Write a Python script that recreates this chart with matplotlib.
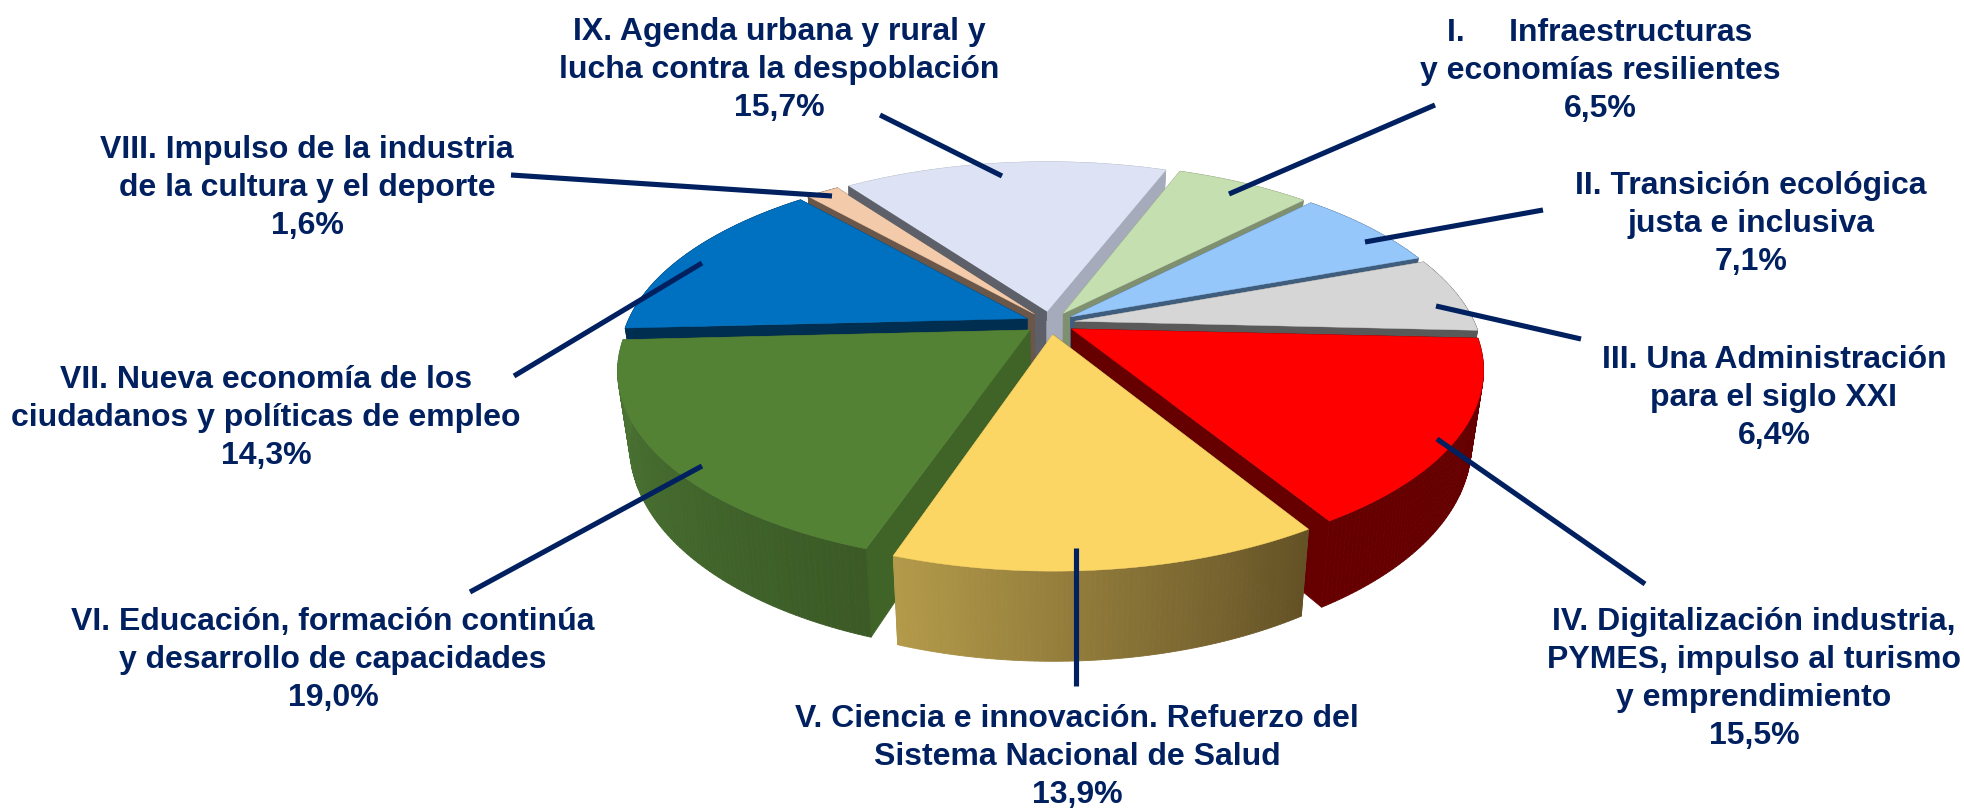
import numpy as np
import matplotlib
matplotlib.use('Agg')
import matplotlib.pyplot as plt
from matplotlib.colors import to_rgb

labels = [
    'I.     Infraestructuras\ny economías resilientes',
    'II. Transición ecológica\njusta e inclusiva',
    'III. Una Administración\npara el siglo XXI',
    'IV. Digitalización industria,\nPYMES, impulso al turismo\ny emprendimiento',
    'V. Ciencia e innovación. Refuerzo del\nSistema Nacional de Salud',
    'VI. Educación, formación continúa\ny desarrollo de capacidades',
    'VII. Nueva economía de los\nciudadanos y políticas de empleo',
    'VIII. Impulso de la industria\nde la cultura y el deporte',
    'IX. Agenda urbana y rural y\nlucha contra la despoblación',
]
shares = [6.5, 7.1, 6.4, 15.5, 13.9, 19.0, 14.3, 1.6, 15.7]
top_colors = ['#C5DFB0', '#96C7FA', '#D6D6D6', '#FF0000', '#FBD664',
              '#548235', '#0070C0', '#F4CBAA', '#DDE3F4']
cut_start = ['#7F9070', '#3F5E7E', '#595959', '#660000', '#645226',
             '#406328', '#002E50', '#6B5749', '#5D6068']
cut_end = ['#7F9070', '#3F5E7E', '#595959', '#660000', '#B39A4A',
           '#406328', '#002E50', '#6B5749', '#A5ABBA']
side_start = ['#7F9070', '#3F5E7E', '#595959', '#660000', '#645226',
              '#3B5A26', '#002E50', '#6B5749', '#A5ABBA']
side_end = ['#7F9070', '#3F5E7E', '#595959', '#660000', '#B39A4A',
            '#4C7734', '#002E50', '#6B5749', '#A5ABBA']

NAVY = '#002060'
CX, CY = 1050, 323
R, RY = 400, 184
PERSP = 0.2
EXPLODE = 25
DEPTH = 71
TAPER = 0.028
START = 69.2
BAND = 9

# label centre and leader line for each slice, in pixels
label_pos = [(1600, 71), (1751, 224), (1774, 398), (1754, 679), (1077, 757),
             (333, 660), (266, 418), (307, 188), (779, 70)]
leaders = [((1435, 105), (1229, 194)), ((1543, 210), (1365, 242)),
           ((1581, 339), (1436, 306)), ((1645, 584), (1437, 439)),
           ((1076, 686), (1076, 548)), ((470, 592), (702, 466)),
           ((514, 376), (702, 263)), ((511, 175), (832, 196)),
           ((880, 115), (1002, 176))]
# back slices first so the front ones cover them
back_order = [8, 0, 7]
front_order = [1, 6, 2, 3, 5, 4]


def project(x, y, low=False):
    scale = 1 / (1 + PERSP * y / R)
    px = x * scale
    py = -y * RY / R * scale
    if low:
        return CX + px * (1 - TAPER), CY + py + DEPTH * scale
    return CX + px, CY + py


def wedge_points(t0, t1):
    mid = np.radians((t0 + t1) / 2)
    ox, oy = EXPLODE * np.cos(mid), EXPLODE * np.sin(mid)
    ts = np.radians(np.linspace(t0, t1, 80))
    return ox, oy, ox + R * np.cos(ts), oy + R * np.sin(ts)


def draw_wedge(ax, t0, t1, top, cuts, c0, c1):
    # t0 > t1, clockwise, angles in degrees
    ox, oy, xs, ys = wedge_points(t0, t1)
    rim_x, rim_y = project(xs, ys)
    low_x, low_y = project(xs, ys, low=True)
    ax0, ay0 = project(ox, oy)
    bx0, by0 = project(ox, oy, low=True)

    # cut faces
    for i, cut in zip([0, -1], cuts):
        ax.fill([ax0, rim_x[i], low_x[i], bx0], [ay0, rim_y[i], low_y[i], by0],
                color=cut, lw=0.5)

    # outer side, shaded strip by strip
    c0, c1 = np.array(to_rgb(c0)), np.array(to_rgb(c1))
    for i in range(len(xs) - 1):
        c = c0 + (c1 - c0) * i / (len(xs) - 2)
        ax.fill([rim_x[i], rim_x[i + 1], low_x[i + 1], low_x[i]],
                [rim_y[i], rim_y[i + 1], low_y[i + 1], low_y[i]],
                color=c, lw=0.6)

    ax.fill(np.r_[ax0, rim_x], np.r_[ay0, rim_y], color=top, lw=0.3)


def draw_band(ax, t0, t1, color):
    # thin strip of the cut face that shows over the slice next to it
    ox, oy, xs, ys = wedge_points(t0, t1)
    rx, ry = project(xs[0], ys[0])
    ax0, ay0 = project(ox, oy)
    ax.fill([ax0, rx, rx, ax0], [ay0, ry, ry + BAND, ay0 + BAND], color=color, lw=0.3)


fig = plt.figure(figsize=(19.64, 8.09), dpi=100)
ax = fig.add_axes([0, 0, 1, 1])
ax.set_xlim(0, 1964)
ax.set_ylim(809, 0)
ax.axis('off')

edges = START - np.cumsum([0] + shares) * 3.6
for i in back_order:
    draw_wedge(ax, edges[i], edges[i + 1], top_colors[i], (cut_start[i], cut_end[i]),
               side_start[i], side_end[i])
draw_band(ax, edges[8], edges[9], cut_start[8])
for i in front_order:
    draw_wedge(ax, edges[i], edges[i + 1], top_colors[i], (cut_start[i], cut_end[i]),
               side_start[i], side_end[i])

for (a, b) in leaders:
    ax.plot([a[0], b[0]], [a[1], b[1]], color=NAVY, lw=3.7, solid_capstyle='butt')

for lab, val, pos in zip(labels, shares, label_pos):
    txt = lab + '\n' + f'{val:.1f}%'.replace('.', ',')
    ax.text(pos[0], pos[1], txt, ha='center', va='center', color=NAVY,
            family='Liberation Sans', weight='bold', fontsize=23, linespacing=1.34)

fig.savefig('out.png', dpi=100)
